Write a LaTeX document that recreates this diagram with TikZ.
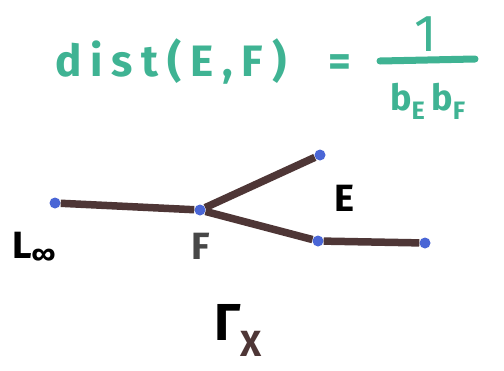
\documentclass[tikz,border=0pt]{standalone}
\usepackage{fontspec}
\setmainfont{Fira Sans}
\newfontfamily\handfont[LetterSpace=20,WordSpace=2.2]{Fira Sans}
\usetikzlibrary{positioning}
\definecolor{verdeagua}{HTML}{3FB393}
\definecolor{azulponto}{HTML}{4A66D6}
\definecolor{marromaresta}{HTML}{4E3636}
\definecolor{cinzaesc}{HTML}{474747}

\begin{document}
\begin{tikzpicture}[x=1pt,y=-1pt,
  ponto/.style={circle, fill=azulponto, inner sep=0pt, minimum size=11pt},
  aresta/.style={marromaresta, line width=7.5pt},
  rotulo/.style={font=\bfseries\fontsize{38}{38}\selectfont, inner sep=0pt},
  formula/.style={verdeagua, font=\handfont\bfseries\fontsize{44}{44}\selectfont, inner sep=0pt}]
\useasboundingbox[fill=white] (0,0) rectangle (504,370);
% formula
\node[formula, anchor=base west] (lhs) at (55,76) {dist(E,F) =};
\node[formula, font=\handfont\fontsize{52}{52}\selectfont] (num) at (426,34) {1};
\node[formula, font=\handfont\bfseries\fontsize{36}{36}\selectfont] (den) at (428,101) {b\textsubscript{E}\,b\textsubscript{F}};
\coordinate (barL) at (380,61);
\coordinate (barR) at (475,59);
\draw[verdeagua, line width=7pt, line cap=round] (barL) -- (barR);
% graph
\node[ponto] (lInf) at (55,203) {};
\node[ponto] (vF) at (200,210) {};
\node[ponto] (vE) at (320,155) {};
\node[ponto] (vG) at (318,241) {};
\node[ponto] (vR) at (425,243) {};
\draw[aresta] (lInf) -- (vF);
\draw[aresta] (vF) -- (vE);
\draw[aresta] (vF) -- (vG);
\draw[aresta] (vG) -- (vR);
% labels
\node[rotulo] (labE) at (344,198) {E};
\node[rotulo, cinzaesc] (labF) at (201,246) {F};
\node[rotulo, anchor=base west] (labL) at (12,258) {L\textsubscript{∞}};
\node[rotulo, anchor=base west, font=\bfseries\fontsize{52}{52}\selectfont] (labG) at (214,340) {Γ\textsubscript{\color{marromaresta}X}};
\end{tikzpicture}
\end{document}
